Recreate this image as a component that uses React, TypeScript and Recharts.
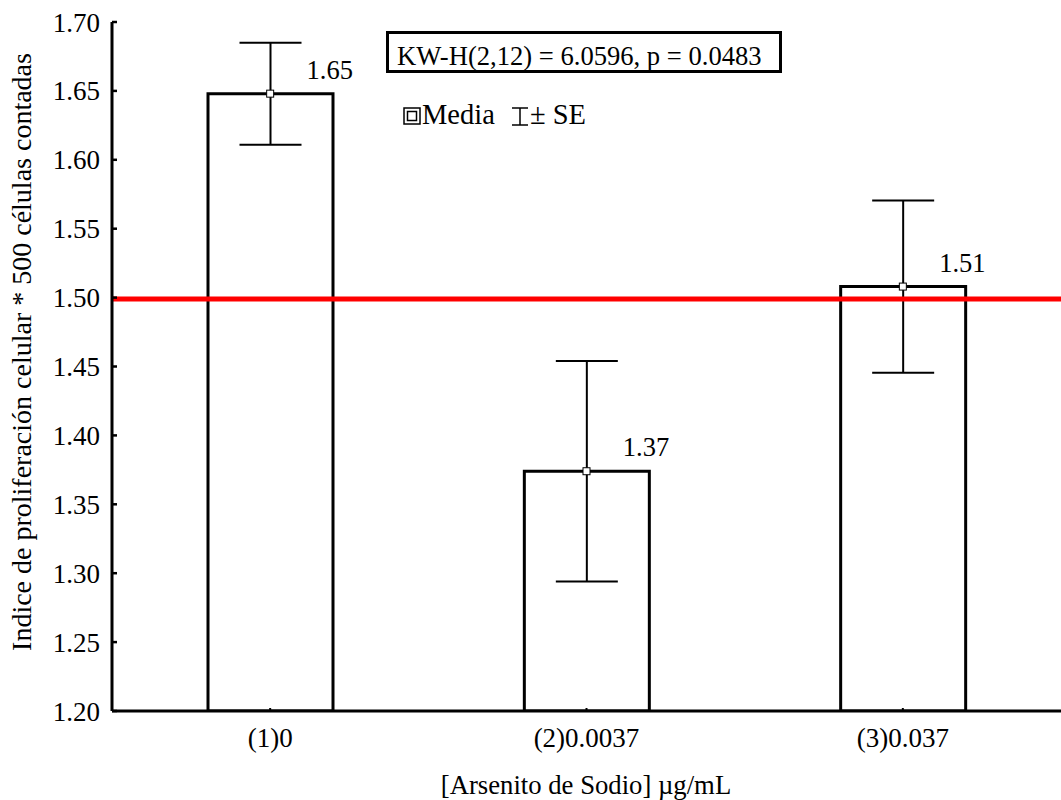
import React from 'react';
import {
  ComposedChart,
  Bar,
  ErrorBar,
  Scatter,
  XAxis,
  YAxis,
  ReferenceLine,
  LabelList,
} from 'recharts';

const categories = ['(1)0', '(2)0.0037', '(3)0.037'];
const meanValues = [1.648, 1.374, 1.508];
const seValues = [0.037, 0.08, 0.0625];
const valueLabels = ['1.65', '1.37', '1.51'];
const yTicks = [1.2, 1.25, 1.3, 1.35, 1.4, 1.45, 1.5, 1.55, 1.6, 1.65, 1.7];
const referenceValue = 1.499;
const statText = 'KW-H(2,12) = 6.0596, p = 0.0483';
const xTitle = '[Arsenito de Sodio] \u00b5g/mL';
const yTitle = 'Indice de proliferación celular * 500 células contadas';

const data = categories.map((c, i) => ({
  cat: c,
  mean: meanValues[i],
  se: seValues[i],
  label: valueLabels[i],
}));

const FONT = 'Liberation Serif, Times New Roman, DejaVu Serif, serif';
const tickStyle = { fontFamily: FONT, fontSize: 27, fill: '#000' };

const MeanSquare = (props: any) => {
  const { cx, cy } = props;
  if (cx == null || cy == null) return <g />;
  return <rect x={cx - 3.5} y={cy - 3.5} width={7} height={7} fill="#fff" stroke="#000" strokeWidth={1} />;
};

const ValueLabel = (props: any) => {
  const { x, y, width, value } = props;
  return (
    <text x={x + width / 2 + 36} y={y - 15} style={{ fontFamily: FONT, fontSize: 26.5 }} fill="#000">
      {value}
    </text>
  );
};

const T = (p: any) => {
  const { size, children, ...rest } = p;
  return (
    <text {...rest} style={{ fontFamily: FONT, fontSize: size || 26.5 }} fill="#000">
      {children}
    </text>
  );
};

export default function App() {
  return (
    <div style={{ position: 'absolute', left: 0, top: 0, width: 1061, height: 800, background: '#fff', fontFamily: FONT }}>
      <ComposedChart
        width={1061}
        height={800}
        data={data}
        margin={{ top: 22, right: 0, bottom: 0, left: 0 }}
      >
        <XAxis
          xAxisId="bottom"
          dataKey="cat"
          orientation="bottom"
          height={89}
          axisLine={{ stroke: '#000', strokeWidth: 3 }}
          tickLine={{ stroke: '#000', strokeWidth: 2 }}
          tickSize={-3}
          tickMargin={20}
          tick={tickStyle}
          interval={0}
        />
        <XAxis
          xAxisId="top"
          dataKey="cat"
          orientation="top"
          height={0}
          axisLine={{ stroke: '#000', strokeWidth: 3 }}
          tickLine={{ stroke: '#000', strokeWidth: 2 }}
          tickSize={-3}
          tick={() => <g />}
          interval={0}
        />
        <YAxis
          yAxisId="left"
          orientation="left"
          width={112}
          domain={[1.2, 1.7]}
          ticks={yTicks}
          type="number"
          allowDataOverflow
          axisLine={{ stroke: '#000', strokeWidth: 3 }}
          tickLine={{ stroke: '#000', strokeWidth: 2.5 }}
          tickSize={-5}
          tickMargin={17}
          tick={tickStyle}
          tickFormatter={(v: number) => v.toFixed(2)}
          interval={0}
        />
        <YAxis
          yAxisId="right"
          orientation="right"
          width={0}
          domain={[1.2, 1.7]}
          ticks={yTicks}
          type="number"
          allowDataOverflow
          axisLine={false}
          tickLine={{ stroke: '#000', strokeWidth: 2.5 }}
          tickSize={-4}
          tick={() => <g />}
          interval={0}
        />
        <Bar
          xAxisId="bottom"
          yAxisId="left"
          dataKey="mean"
          fill="#fff"
          stroke="#000"
          strokeWidth={3}
          barSize={125}
          isAnimationActive={false}
        >
          <ErrorBar dataKey="se" width={31} stroke="#000" strokeWidth={2} direction="y" isAnimationActive={false} />
          <LabelList dataKey="label" content={ValueLabel} />
        </Bar>
        <ReferenceLine xAxisId="bottom" yAxisId="left" y={referenceValue} stroke="#ff0000" strokeWidth={5} ifOverflow="extendDomain" />
        <Scatter
          xAxisId="bottom"
          yAxisId="left"
          dataKey="mean"
          shape={MeanSquare}
          isAnimationActive={false}
        />
      </ComposedChart>
      <svg
        width={1061}
        height={800}
        style={{ position: 'absolute', left: 0, top: 0, pointerEvents: 'none' }}
      >
        <T x={31} y={352} transform="rotate(-90 31 352)" textAnchor="middle" size={28}>
          {yTitle}
        </T>
        <T x={586} y={794} textAnchor="middle" size={26.7}>
          {xTitle}
        </T>
        <rect x={387.5} y={32.5} width={393} height={39} fill="#fff" stroke="#000" strokeWidth={3} />
        <T x={397} y={65} size={26.6}>
          {statText}
        </T>
        <rect x={404} y={108} width={16} height={16} fill="#fff" stroke="#000" strokeWidth={1.5} />
        <rect x={407.5} y={111.5} width={9} height={9} fill="#fff" stroke="#000" strokeWidth={1.5} />
        <T x={422} y={124} size={28.5}>
          Media
        </T>
        <line x1={520} y1={108} x2={520} y2={125} stroke="#000" strokeWidth={1.5} />
        <line x1={512} y1={108} x2={528} y2={108} stroke="#000" strokeWidth={1.5} />
        <line x1={512} y1={125} x2={528} y2={125} stroke="#000" strokeWidth={1.5} />
        <T x={530} y={124} size={28.5}>
          {'\u00b1 SE'}
        </T>
      </svg>
    </div>
  );
}
